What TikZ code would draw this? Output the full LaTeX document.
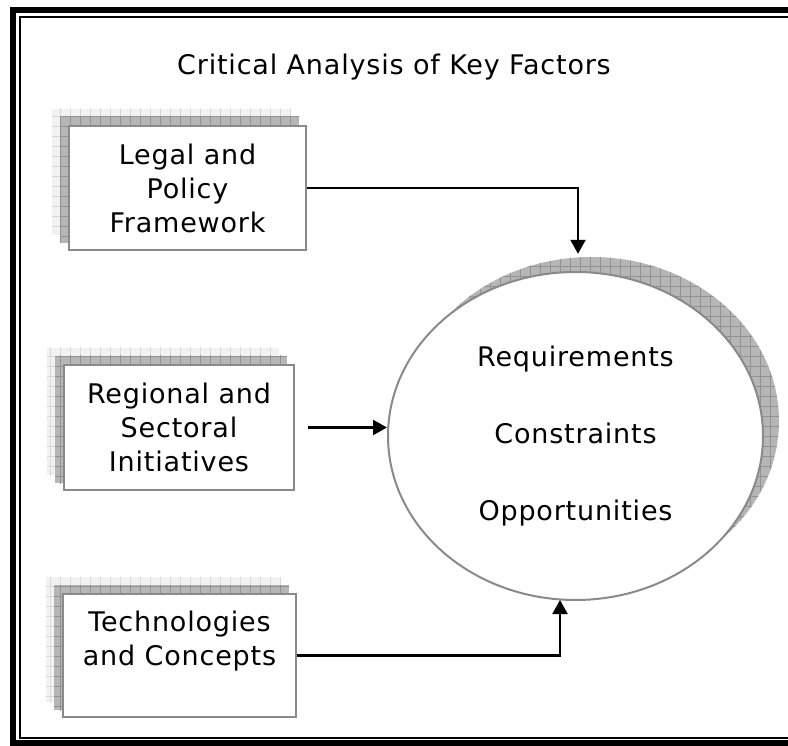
\documentclass[tikz,border=0pt]{standalone}
\usepackage{fontspec}
\setmainfont{DejaVu Sans}[LetterSpace=3]
\usetikzlibrary{shapes,arrows.meta,positioning,calc,patterns.meta,backgrounds}

\definecolor{boxline}{HTML}{8A8A8A}
\definecolor{backfill}{HTML}{F2F2F2}
\definecolor{backgrid}{HTML}{DADADA}
\definecolor{midfill}{HTML}{B6B6B6}
\definecolor{midgrid}{HTML}{929292}

\tikzset{
  factor/.style={draw=boxline,line width=2pt,rectangle,fill=white,inner sep=0pt,
    align=center,font=\fontsize{27}{34}\selectfont},
  backlayer/.style={fill=backfill,postaction={pattern={Hatch[angle=0,distance=10pt,line width=0.6pt]},pattern color=backgrid}},
  midlayer/.style={fill=midfill,postaction={pattern={Hatch[angle=0,distance=10pt,line width=0.6pt]},pattern color=midgrid}},
  flow/.style={line width=2.2pt,-{Triangle[length=14pt,width=15pt]}},
}

\begin{document}
\begin{tikzpicture}[x=1pt,y=-1pt]
    \useasboundingbox (0,0) rectangle (788,746);

    % frame, open on the right
    \draw[line width=6pt] (795,10.5) -- (13,10.5) -- (13,742.5) -- (795,742.5);
    \draw[line width=2pt] (795,17.5) -- (20,17.5) -- (20,737.5) -- (795,737.5);

    \node[anchor=base,font=\fontsize{27}{34}\selectfont] (title) at (394,75) {Critical Analysis of Key Factors};

    \node[factor,minimum width=237pt,minimum height=124pt] (legal) at (187.5,188) {Legal and\\Policy\\Framework};
    \node[factor,minimum width=230pt,minimum height=125pt] (regional) at (179,427.5) {Regional and\\Sectoral\\Initiatives};
    \node[factor,minimum width=233pt,minimum height=123pt] (tech) at (179.5,655.5) {Technologies\\and Concepts\\\phantom{x}};

    \begin{scope}[on background layer]
        \foreach \fac in {legal,regional,tech} {
            \fill[backlayer] ($(\fac.north west)+(-16,-16)$) rectangle ($(\fac.south east)+(-16,-16)$);
            \fill[midlayer] ($(\fac.north west)+(-8,-8)$) rectangle ($(\fac.south east)+(-8,-8)$);
        }
    \end{scope}

    \node[ellipse,midlayer,minimum width=375pt,minimum height=328pt,inner sep=0pt] (reqshadow) at (591.5,421) {};
    \node[ellipse,draw=boxline,line width=2pt,fill=white,minimum width=375pt,minimum height=328pt,inner sep=0pt,
        align=center,font=\fontsize{27}{34}\selectfont] (req) at (575.5,436)
        {Requirements\\[43pt]Constraints\\[43pt]Opportunities};

    \coordinate (topin) at ($(req.north |- reqshadow.north)+(2.5,-3)$);
    \coordinate (bottomin) at ($(req.south)+(-15.5,-1)$);

    \draw[flow] (legal.east) -| (topin);
    \draw[flow,shorten <=13pt] (regional.east) -- (regional.east -| req.west);
    \draw[flow] (tech.east) -| (bottomin);
\end{tikzpicture}
\end{document}
